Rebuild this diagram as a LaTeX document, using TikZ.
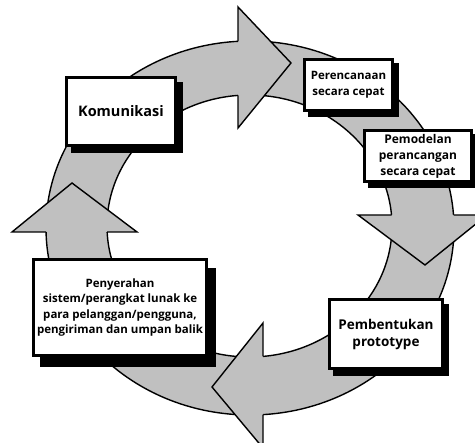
\documentclass[tikz,border=0pt]{standalone}
\usepackage{fontspec}
\setmainfont{Open Sans}
\definecolor{ringgray}{RGB}{192,192,192}
\pgfdeclarelayer{front}
\pgfsetlayers{main,front}
\tikzset{
  stagebox/.style={draw, line width=2.8pt, fill=white, align=center,
    font=\fontsize{11.5}{15.5}\selectfont\bfseries},
  ringline/.style={line width=1.4pt, line join=miter}
}

\begin{document}
\begin{tikzpicture}[x=1pt,y=-1pt]
  \useasboundingbox (0,0) rectangle (475,443);
  \fill[white] (0,0) rectangle (475,443);
  \clip (0,0) rectangle (475,443);
  \draw[ringline, fill=ringgray, even odd rule]
    (250,228) ellipse [x radius=204pt, y radius=187pt]
    (249.5,226) ellipse [x radius=142.5pt, y radius=131pt];
  \fill[ringgray] (238,7) -- (291,63) -- (238,128) -- cycle;
  \draw[ringline] (238,41.3) -- (238,7) -- (291,63) -- (238,128) -- (238,95.4);
  \fill[ringgray] (358,215) -- (425,265) -- (487,215) -- cycle;
  \draw[ringline] (391.5,215) -- (358,215) -- (425,265) -- (487,215) -- (453.5,215);
  \fill[ringgray] (263,323) -- (212,387) -- (263,448) -- cycle;
  \draw[ringline] (263,356.4) -- (263,323) -- (212,387) -- (263,448) -- (263,414.6);
  \fill[ringgray] (12,232) -- (72,183) -- (137,232) -- cycle;
  \draw[ringline] (46,232) -- (12,232) -- (72,183) -- (137,232) -- (107,232);
  \begin{pgfonlayer}{front}
    \node[stagebox, minimum width=109.5pt, minimum height=68.5pt,
          font=\fontsize{14.5}{18}\selectfont\bfseries] (komunikasi) at (121,111.5) {Komunikasi};
    \node[stagebox, minimum width=88.5pt, minimum height=51.5pt] (perencanaan) at (348.5,85) {Perencanaan\\secara cepat};
    \node[stagebox, minimum width=107.5pt, minimum height=51.5pt,
          font=\fontsize{12}{16}\selectfont\bfseries] (pemodelan) at (418,156) {Pemodelan\\perancangan\\secara cepat};
    \node[stagebox, minimum width=171.5pt, minimum height=96.5pt] (penyerahan) at (120,307.5) {Penyerahan\\sistem/perangkat lunak ke\\para pelanggan/pengguna,\\pengiriman dan umpan balik};
    \node[stagebox, minimum width=113.5pt, minimum height=69.5pt,
          font=\fontsize{13.5}{17}\selectfont\bfseries] (pembentukan) at (386,334) {Pembentukan\\prototype};
  \end{pgfonlayer}
  \foreach \n/\dx/\dy in {komunikasi/6/6, perencanaan/5/5, pemodelan/5/5, penyerahan/8/10, pembentukan/5/6}
    \fill ([shift={(\dx pt,-\dy pt)}]\n.north west) rectangle ([shift={(\dx pt,-\dy pt)}]\n.south east);
\end{tikzpicture}
\end{document}
